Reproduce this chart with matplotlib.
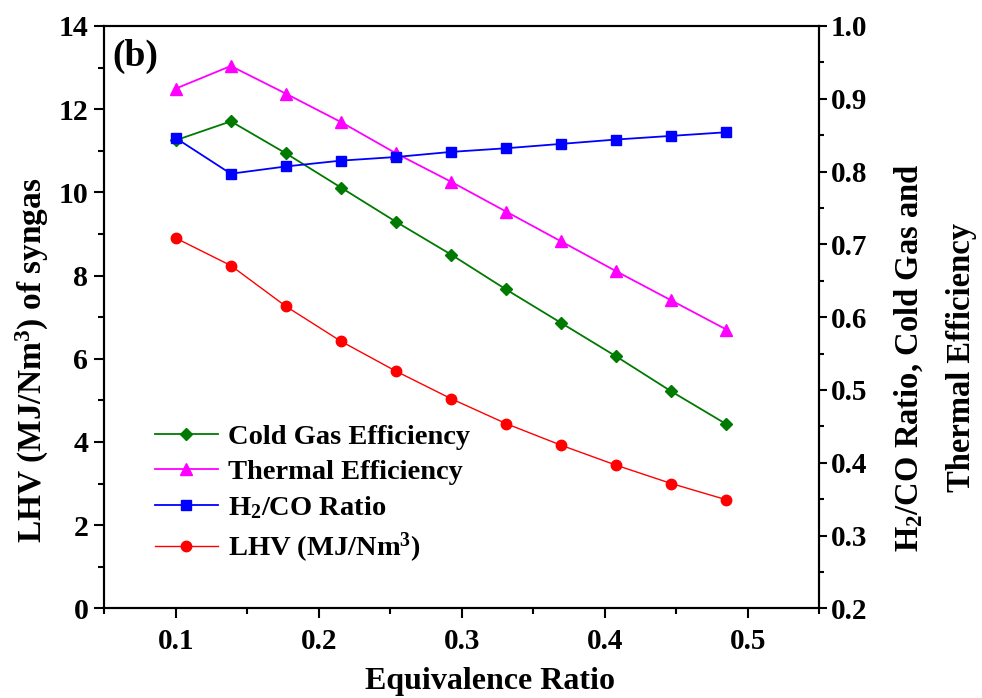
import numpy as np
import matplotlib
matplotlib.use('Agg')
import matplotlib.pyplot as plt
from matplotlib.ticker import MultipleLocator

# 数据
equiv_ratio = [0.1, 0.1385, 0.177, 0.2155, 0.254, 0.2925, 0.331, 0.3695, 0.408, 0.4465, 0.485]
cold_gas_eff = [0.843, 0.869, 0.825, 0.778, 0.731, 0.686, 0.638, 0.592, 0.546, 0.498, 0.453]
thermal_eff = [0.914, 0.945, 0.907, 0.868, 0.825, 0.786, 0.745, 0.704, 0.663, 0.623, 0.583]
h2_co_ratio = [0.846, 0.797, 0.807, 0.815, 0.820, 0.827, 0.832, 0.838, 0.844, 0.849, 0.854]
lhv = [8.90, 8.24, 7.26, 6.42, 5.70, 5.04, 4.44, 3.92, 3.44, 3.00, 2.61]

plt.rcParams['font.family'] = ['Liberation Serif', 'DejaVu Serif']
plt.rcParams['font.weight'] = 'bold'
plt.rcParams['mathtext.default'] = 'regular'

fig = plt.figure(figsize=(9.82, 6.98), dpi=100)
ax = fig.add_axes([0.1062, 0.1285, 0.7281, 0.8343])
ax2 = ax.twinx()

# 左轴: LHV
l_lhv, = ax.plot(equiv_ratio, lhv, '-o', color='#ff0000', lw=1, ms=7.5,
                 label='LHV (MJ/Nm$^3$)')
# 右轴: 比值与效率
l_cg, = ax2.plot(equiv_ratio, cold_gas_eff, '-D', color='#007a00', lw=1.3, ms=6.5,
                 label='Cold Gas Efficiency')
l_th, = ax2.plot(equiv_ratio, thermal_eff, '-^', color='#ff00ff', lw=1.3, ms=8,
                 label='Thermal Efficiency')
l_h2, = ax2.plot(equiv_ratio, h2_co_ratio, '-s', color='#0000ff', lw=1.3, ms=7,
                 label='H$_2$/CO Ratio')

ax.set_xlim(0.05, 0.55)
ax.set_ylim(0, 14)
ax2.set_ylim(0.2, 1.0)

ax.xaxis.set_major_locator(MultipleLocator(0.1))
ax.xaxis.set_minor_locator(MultipleLocator(0.05))
ax.yaxis.set_major_locator(MultipleLocator(2))
ax.yaxis.set_minor_locator(MultipleLocator(1))
ax2.yaxis.set_major_locator(MultipleLocator(0.1))
ax2.yaxis.set_minor_locator(MultipleLocator(0.05))

ax.set_xticks([0.1, 0.2, 0.3, 0.4, 0.5])
ax.set_xticklabels(['0.1', '0.2', '0.3', '0.4', '0.5'])

for a in (ax, ax2):
    for s in a.spines.values():
        s.set_linewidth(1.5)
ax.tick_params(axis='both', which='major', direction='out', length=7.5, width=1.5)
ax.tick_params(axis='both', which='minor', direction='out', length=4, width=1.5)
ax.tick_params(axis='x', labelsize=21, pad=7)
ax.tick_params(axis='y', labelsize=21.5, pad=4)
ax2.tick_params(axis='y', which='major', direction='out', length=6, width=1.5,
                labelsize=21, pad=2)
ax2.tick_params(axis='y', which='minor', direction='out', length=3.5, width=1.5)

ax.set_xlabel('Equivalence Ratio', fontsize=23, fontweight='bold')
ax.xaxis.set_label_coords(0.539, -0.1)
ax.set_ylabel('LHV (MJ/Nm$^3$) of syngas', fontsize=24, fontweight='bold')
ax.yaxis.set_label_coords(-0.075, 0.425)
ax2.set_ylabel('H$_2$/CO Ratio, Cold Gas and\nThermal Efficiency', fontsize=23.5,
               fontweight='bold', linespacing=1.85)
ax2.yaxis.set_label_coords(1.103, 0.43)

ax.text(0.012, 0.978, '(b)', transform=ax.transAxes, fontsize=27,
        fontweight='bold', va='top', ha='left')

leg = ax2.legend(handles=[l_cg, l_th, l_h2, l_lhv], loc='upper left',
                 bbox_to_anchor=(0.0709, 0.317), frameon=False, fontsize=20.5,
                 handlelength=2.2, handletextpad=0.35, labelspacing=0.33,
                 borderpad=0, borderaxespad=0)

fig.savefig('out.png', dpi=100)
